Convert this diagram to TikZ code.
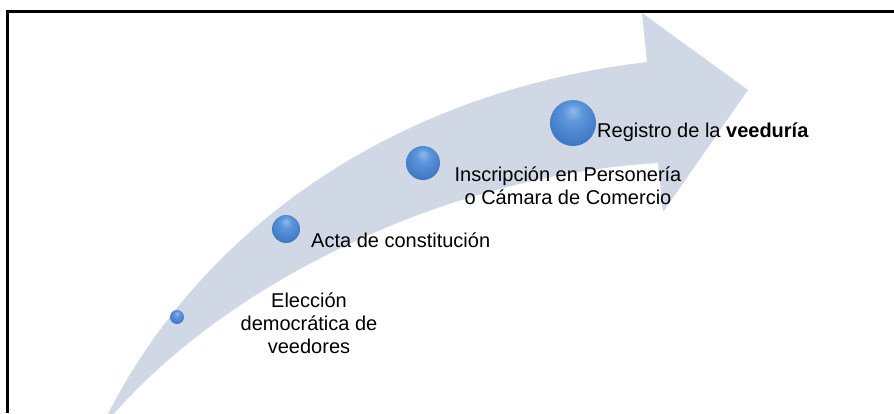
\documentclass[tikz,border=0pt]{standalone}
\usepackage{fontspec}
\setmainfont{Liberation Sans}
\pgfdeclareradialshading{glossball}{\pgfpoint{0bp}{14bp}}{%
  rgb(0bp)=(0.56,0.73,0.93);
  rgb(10bp)=(0.37,0.59,0.86);
  rgb(28bp)=(0.25,0.48,0.77);
  rgb(42bp)=(0.19,0.39,0.67);
  rgb(50bp)=(0.14,0.30,0.55)}
\begin{document}
\begin{tikzpicture}[x=1pt,y=-1pt,
  arrowfill/.style={fill={rgb,255:red,208;green,215;blue,229}, draw=none},
  ball/.style={circle, inner sep=0pt, shading=glossball},
  lbl/.style={inner sep=0pt, font=\fontsize{20}{23}\selectfont, text=black},
  frameline/.style={line width=3pt, black}]
\useasboundingbox (0,0) rectangle (894,413);
\begin{scope}
\clip (0,0) rectangle (894,413);
% curved arrow
\path[arrowfill] (107,416) .. controls (190,250) and (370,95) .. (647,62)
  -- (642,13) -- (748,90) -- (663,212) -- (658,163)
  .. controls (450,175) and (230,280) .. (112,416) -- cycle;
\end{scope}
% frame (top and left only)
\draw[frameline] (894,11) -- (7,11) -- (7,413);
% spheres
\node[ball, minimum size=14pt] (s1) at (177,317) {};
\node[ball, minimum size=28pt] (s2) at (286,229) {};
\node[ball, minimum size=34pt] (s3) at (423,163) {};
\node[ball, minimum size=46pt] (s4) at (573,123) {};
% labels
\node[lbl, anchor=west] (t4) at (597,132) {Registro de la \textbf{veeduría}};
\node[lbl, align=center] (t3) at (568,186) {Inscripción en Personería\\o Cámara de Comercio};
\node[lbl, anchor=west] (t2) at (311,240) {Acta de constitución};
\node[lbl, align=center] (t1) at (309,323) {Elección\\democrática de\\veedores};
\end{tikzpicture}
\end{document}
